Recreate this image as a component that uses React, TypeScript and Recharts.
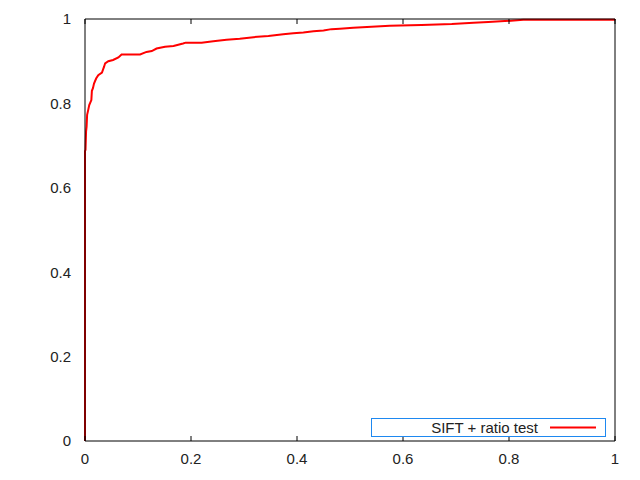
import { LineChart, Line, XAxis, YAxis, Legend } from 'recharts';

// ROC curve (false positive rate vs. true positive rate)
const FPR = [
  0, 0, 0.001, 0.002, 0.003, 0.004, 0.006, 0.008, 0.012, 0.013, 0.015, 0.017, 0.021, 0.025,
  0.032, 0.036, 0.038, 0.044, 0.053, 0.063, 0.069, 0.104, 0.116, 0.126, 0.135, 0.151, 0.167,
  0.185, 0.19, 0.22, 0.242, 0.267, 0.292, 0.318, 0.346, 0.374, 0.393, 0.412, 0.431, 0.45,
  0.465, 0.481, 0.506, 0.532, 0.575, 0.635, 0.692, 0.733, 0.761, 0.792, 0.827, 0.999, 1,
];
const TPR = [
  0, 0.687, 0.69, 0.733, 0.745, 0.773, 0.784, 0.796, 0.808, 0.83, 0.836, 0.847, 0.859, 0.867,
  0.873, 0.887, 0.895, 0.9, 0.903, 0.909, 0.916, 0.916, 0.922, 0.924, 0.93, 0.934, 0.936,
  0.942, 0.944, 0.944, 0.947, 0.951, 0.953, 0.957, 0.96, 0.964, 0.966, 0.968, 0.971, 0.973,
  0.976, 0.977, 0.979, 0.981, 0.984, 0.986, 0.988, 0.991, 0.993, 0.995, 0.998, 0.998, 1,
];
const TICKS = [0, 0.2, 0.4, 0.6, 0.8, 1];
const SERIES_NAME = 'SIFT + ratio test';

const data = FPR.map((x, i) => ({ x, y: TPR[i] }));

const FONT = '"Liberation Sans", Arial, sans-serif';
const tickStyle = { fill: '#222', fontSize: 15, fontFamily: FONT };
const blank = () => '';

function KeyBox() {
  return (
    <svg width={235} height={20} style={{ display: 'block' }}>
      <rect x={0.5} y={0.5} width={234} height={18} fill="#fff" stroke="#1e88f0" strokeWidth={1} />
      <text x={167} y={14.5} textAnchor="end" fontSize={15} fontFamily={FONT} fill="#222">
        {SERIES_NAME}
      </text>
      <line x1={179} x2={225} y1={9.5} y2={9.5} stroke="#ff0000" strokeWidth={2} />
    </svg>
  );
}

export default function App() {
  return (
    <div style={{ position: 'absolute', left: 0, top: 0, background: '#fff' }}>
      <LineChart width={640} height={480} data={data} margin={{ top: 19, right: 25, bottom: 9, left: 25 }}>
        {/* labelled axes, no tick marks */}
        <XAxis
          xAxisId="b"
          type="number"
          dataKey="x"
          domain={[0, 1]}
          ticks={TICKS}
          height={30}
          axisLine={false}
          tickLine={false}
          tickSize={6}
          tickMargin={6}
          tick={tickStyle}
        />
        <YAxis
          yAxisId="l"
          type="number"
          domain={[0, 1]}
          ticks={TICKS}
          width={60}
          axisLine={false}
          tickLine={false}
          tickSize={6}
          tickMargin={8}
          tick={tickStyle}
        />
        {/* border with inward tick marks on all four sides */}
        <XAxis xAxisId="bm" type="number" dataKey="x" domain={[0, 1]} ticks={TICKS} orientation="bottom" mirror
          tickFormatter={blank} tickSize={5} height={30} axisLine={{ stroke: '#000' }} tickLine={{ stroke: '#000' }} />
        <XAxis xAxisId="tm" type="number" dataKey="x" domain={[0, 1]} ticks={TICKS} orientation="top" mirror
          tickFormatter={blank} tickSize={5} height={30} axisLine={{ stroke: '#000' }} tickLine={{ stroke: '#000' }} />
        <YAxis yAxisId="lm" type="number" domain={[0, 1]} ticks={TICKS} orientation="left" mirror
          tickFormatter={blank} tickSize={5} width={30} axisLine={{ stroke: '#000' }} tickLine={{ stroke: '#000' }} />
        <YAxis yAxisId="rm" type="number" domain={[0, 1]} ticks={TICKS} orientation="right" mirror
          tickFormatter={blank} tickSize={5} width={30} axisLine={{ stroke: '#000' }} tickLine={{ stroke: '#000' }} />
        <Legend
          layout="horizontal"
          verticalAlign="middle"
          align="center"
          wrapperStyle={{ left: 371, top: 418, width: 235, height: 20 }}
          content={() => <KeyBox />}
        />
        <Line
          xAxisId="b"
          yAxisId="l"
          type="linear"
          dataKey="y"
          name={SERIES_NAME}
          stroke="#ff0000"
          strokeWidth={2}
          dot={false}
          isAnimationActive={false}
        />
      </LineChart>
    </div>
  );
}
